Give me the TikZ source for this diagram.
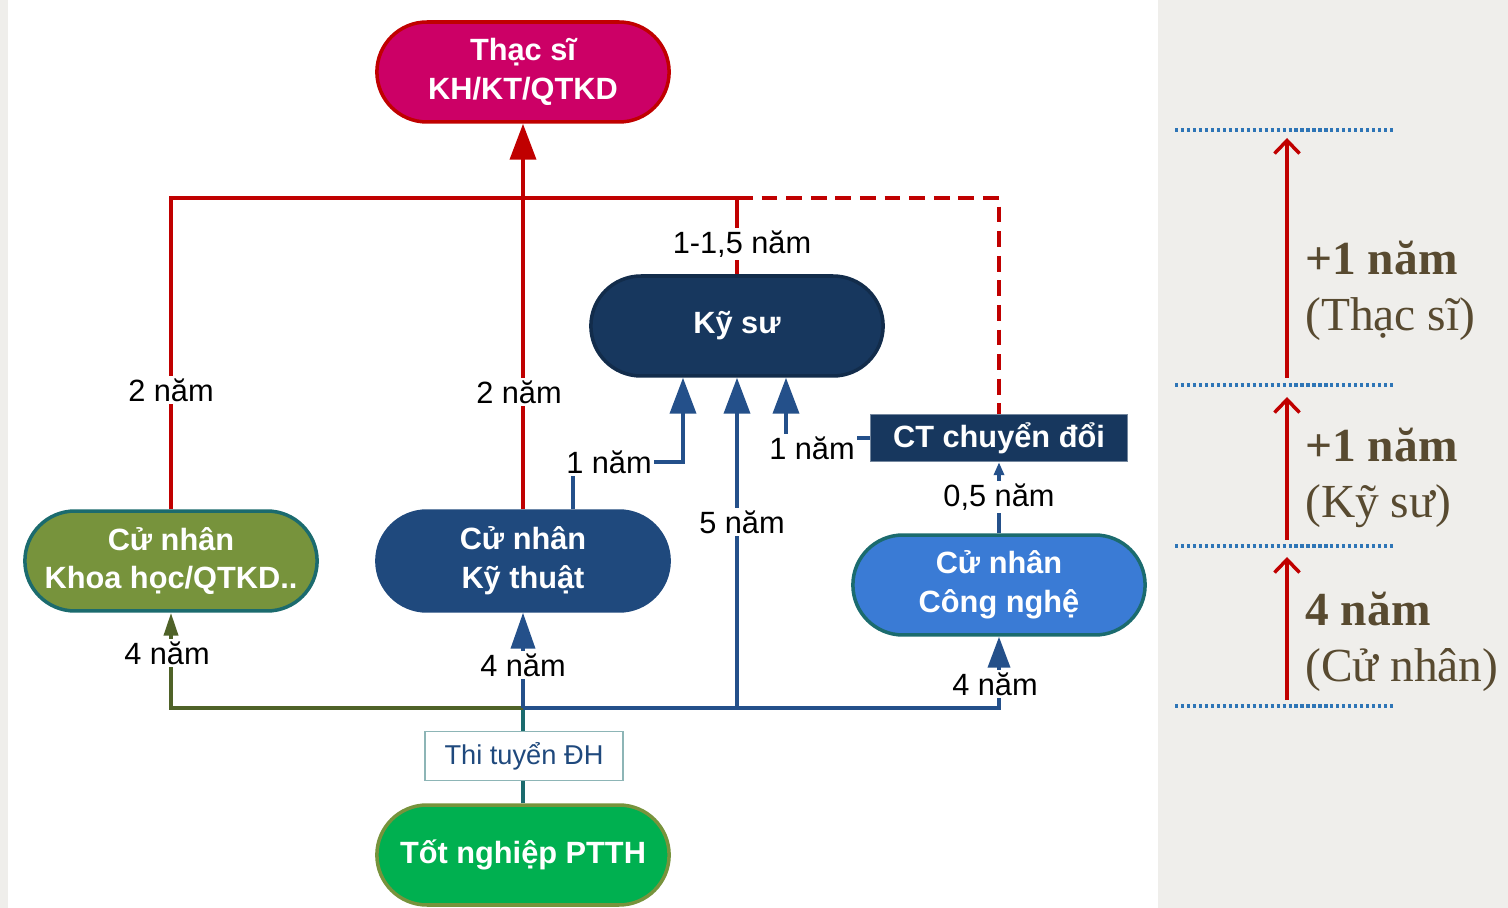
\documentclass[tikz,border=0pt]{standalone}
\usepackage{fontspec}
\setmainfont{Liberation Sans}
\newfontfamily\sidefont{Liberation Serif}
\usetikzlibrary{arrows.meta,positioning,shapes.misc}

\definecolor{magenta1}{HTML}{CC0066}
\definecolor{darkred1}{HTML}{C00000}
\definecolor{navy1}{HTML}{17375E}
\definecolor{navy2}{HTML}{1F497D}
\definecolor{sky1}{HTML}{3A7BD5}
\definecolor{olive1}{HTML}{77933C}
\definecolor{olive2}{HTML}{4F6228}
\definecolor{teal1}{HTML}{1B6B6E}
\definecolor{green1}{HTML}{00B050}
\definecolor{line1}{HTML}{24508A}
\definecolor{dot1}{HTML}{2E75B6}
\definecolor{brown1}{HTML}{584A30}
\definecolor{paper1}{HTML}{EFEEEB}

\begin{document}
\begin{tikzpicture}
        [x = 0.02cm, y = -0.02cm,
        pill/.style = {rounded rectangle, draw, line width = 2pt, minimum width = 6.08cm,
            minimum height = 2cm, text = white, align = center,
            font = \bfseries\fontsize{17.5}{22}\selectfont},
        yr/.style = {fill = white, inner sep = 1.5pt, text = black, font = \fontsize{17.5}{21}\selectfont},
        conn/.style = {line width = 2.2pt},
        redline/.style = {conn, draw = darkred1},
        blueline/.style = {conn, draw = line1},
        bigtri/.style = {-{Triangle[length = 0.72cm, width = 0.52cm]}},
        sidetext/.style = {anchor = west, align = left, text = brown1, inner sep = 0pt,
            font = \sidefont\fontsize{27}{32}\selectfont},
        sidearrow/.style = {draw = darkred1, line width = 2pt, -{Straight Barb[length = 0.26cm, width = 0.5cm]}},
        sideline/.style = {draw = dot1, line width = 2.2pt, dash pattern = on 1.8pt off 1.6pt}]

        %% background
        \fill[paper1] (0,0) rectangle (1508,908);
        \fill[white] (8,0) rectangle (1158,908);
        \useasboundingbox (0,0) rectangle (1508,908);

        %% place elements on canvas
        \node[pill, fill = magenta1, draw = darkred1] (thacsi)   at (523,72)  {Thạc sĩ\\KH/KT/QTKD};
        \node[pill, fill = navy1, draw = navy1!80!black] (kysu) at (737,326) {Kỹ sư};
        \node[pill, fill = olive1, draw = teal1] (khoahoc)       at (171,561) {Cử nhân\\Khoa học/QTKD..};
        \node[pill, fill = navy2, draw = navy2] (kythuat)        at (523,561) {Cử nhân\\Kỹ thuật};
        \node[pill, fill = sky1, draw = teal1] (congnghe)        at (999,585) {Cử nhân\\Công nghệ};
        \node[pill, fill = green1, draw = olive1] (ptth)         at (523,855) {Tốt nghiệp PTTH};
        \node[rectangle, fill = navy1, draw = navy1!60!white, line width = 0.8pt, minimum width = 5.14cm,
            minimum height = 0.94cm, text = white, font = \bfseries\fontsize{17.5}{21}\selectfont] (ctdoi)
            at (999,438) {CT chuyển đổi};

        \coordinate (redtop) at (737,198);
        \coordinate (bot)    at (523,708);
        \coordinate (bend1)  at (683,462);

        %% red paths to the master
        \draw[redline] (khoahoc.north) |- (redtop) -- (kysu.north);
        \draw[redline, dash pattern = on 9pt off 5pt] (redtop) -| (ctdoi.north);
        \draw[redline, bigtri] (kythuat.north) -- (thacsi.south);

        %% blue paths from the exam
        \draw[conn, teal1] (ptth.north) -- (bot);
        \draw[conn, olive2, -{Triangle[length = 0.46cm, width = 0.28cm]}] (bot) -| (khoahoc.south);
        \draw[blueline, -{Triangle[length = 0.72cm, width = 0.48cm]}] (bot) -- (kythuat.south);
        \draw[blueline, -{Triangle[length = 0.62cm, width = 0.44cm]}] (bot) -| (congnghe.south);
        \draw[blueline, bigtri] (kysu.south |- bot) -- (kysu.south);
        \draw[blueline, bigtri] ([xshift = 1cm]kythuat.north) |- (bend1) -- (bend1 |- kysu.south);
        \draw[blueline, bigtri] (ctdoi.west) -| ([xshift = 0.98cm]kysu.south);
        \draw[blueline, -{Triangle[length = 0.26cm, width = 0.2cm]}] (congnghe.north) -- (ctdoi.south);

        \node[rectangle, fill = white, draw = teal1!50!white, line width = 0.8pt, minimum width = 3.96cm,
            minimum height = 0.98cm, text = navy2, font = \fontsize{15.5}{19}\selectfont] (thituyen)
            at (524,756) {Thi tuyển ĐH};

        %% durations
        \node[yr] (d1) at (171,390) {2 năm};
        \node[yr] (d2) at (519,392) {2 năm};
        \node[yr] (d3) at (742,244) {1-1,5 năm};
        \node[yr] (d4) at (609,462) {1 năm};
        \node[yr] (d5) at (812,448) {1 năm};
        \node[yr] (d6) at (742,522) {5 năm};
        \node[yr] (d7) at (999,497) {0,5 năm};
        \node[yr] (d8) at (167,653) {4 năm};
        \node[yr] (d9) at (523,665) {4 năm};
        \node[yr] (d10) at (995,684) {4 năm};

        %% time scale on the right
        \foreach \yy in {130,385,546,706}
            \draw[sideline] (1175,\yy) -- (1395,\yy);
        \coordinate (s1) at (1287,700);
        \coordinate (s2) at (1287,540);
        \coordinate (s3) at (1287,378);
        \draw[sidearrow] (s1) -- (1287,557);
        \draw[sidearrow] (s2) -- (1287,397);
        \draw[sidearrow] (s3) -- (1287,138);
        \node[sidetext] (t1) at (1305,291) {\textbf{+1 năm}\\(Thạc sĩ)};
        \node[sidetext] (t2) at (1305,478) {\textbf{+1 năm}\\(Kỹ sư)};
        \node[sidetext] (t3) at (1305,642) {\textbf{4 năm}\\(Cử nhân)};
    \end{tikzpicture}
\end{document}
